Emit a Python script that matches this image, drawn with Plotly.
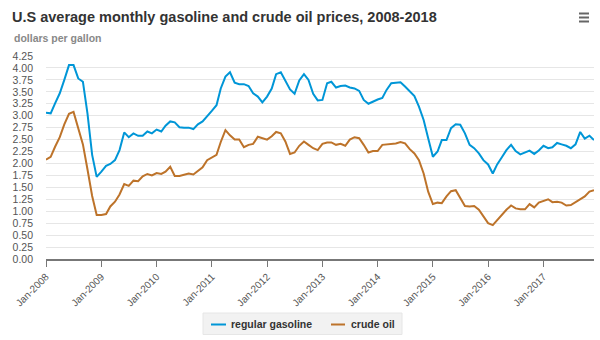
import plotly.graph_objects as go
import pandas as pd

months = pd.date_range("2008-01-01", "2017-12-01", freq="MS")

gasoline = [
    3.06, 3.05, 3.26, 3.47, 3.75, 4.06, 4.06, 3.78, 3.71, 3.05, 2.18, 1.72,
    1.83, 1.95, 1.99, 2.07, 2.28, 2.65, 2.55, 2.63, 2.58, 2.58, 2.67, 2.63,
    2.71, 2.67, 2.79, 2.88, 2.86, 2.76, 2.75, 2.75, 2.72, 2.82, 2.88, 3.00,
    3.10, 3.22, 3.57, 3.82, 3.91, 3.69, 3.66, 3.66, 3.62, 3.47, 3.40, 3.28,
    3.40, 3.57, 3.87, 3.91, 3.74, 3.55, 3.46, 3.74, 3.87, 3.75, 3.46, 3.32,
    3.33, 3.68, 3.71, 3.59, 3.62, 3.63, 3.59, 3.57, 3.52, 3.33, 3.25, 3.30,
    3.34, 3.37, 3.54, 3.68, 3.69, 3.70, 3.61, 3.50, 3.41, 3.19, 2.91, 2.53,
    2.14, 2.25, 2.49, 2.49, 2.74, 2.82, 2.81, 2.63, 2.39, 2.32, 2.21, 2.07,
    1.98, 1.79, 1.98, 2.13, 2.28, 2.39, 2.26, 2.19, 2.23, 2.27, 2.20, 2.27,
    2.37, 2.32, 2.34, 2.43, 2.40, 2.37, 2.32, 2.40, 2.66, 2.52, 2.58, 2.49,
]

crude = [
    2.08, 2.14, 2.35, 2.55, 2.82, 3.04, 3.08, 2.75, 2.40, 1.88, 1.32, 0.92,
    0.92, 0.94, 1.10, 1.20, 1.35, 1.57, 1.53, 1.64, 1.63, 1.73, 1.78, 1.75,
    1.80, 1.78, 1.83, 1.93, 1.74, 1.74, 1.76, 1.79, 1.77, 1.85, 1.92, 2.07,
    2.13, 2.18, 2.45, 2.70, 2.59, 2.50, 2.50, 2.34, 2.39, 2.41, 2.56, 2.53,
    2.50, 2.57, 2.66, 2.63, 2.46, 2.20, 2.23, 2.37, 2.46, 2.39, 2.32, 2.28,
    2.41, 2.44, 2.44, 2.39, 2.41, 2.37, 2.50, 2.55, 2.53, 2.39, 2.23, 2.26,
    2.26, 2.39, 2.40, 2.40, 2.42, 2.45, 2.42, 2.30, 2.21, 2.07, 1.79, 1.41,
    1.15, 1.18, 1.17, 1.31, 1.42, 1.44, 1.27, 1.11, 1.10, 1.11, 1.03, 0.89,
    0.75, 0.71, 0.82, 0.92, 1.03, 1.12, 1.06, 1.04, 1.04, 1.15, 1.08, 1.18,
    1.22, 1.25, 1.19, 1.20, 1.18, 1.12, 1.13, 1.19, 1.25, 1.31, 1.41, 1.44,
]

series_names = ["regular gasoline", "crude oil"]
series_colors = ["#0096d7", "#bd732a"]

title_text = "U.S average monthly gasoline and crude oil prices, 2008-2018"
subtitle_text = "dollars per gallon"

FONT = "Liberation Sans, Arial, sans-serif"

fig = go.Figure()
for name, vals, col in zip(series_names, [gasoline, crude], series_colors):
    fig.add_trace(go.Scatter(x=months, y=vals, mode="lines", name=name,
                             line=dict(color=col, width=2), showlegend=False))

L, R, T, B = 46, 6, 56, 81
W, H = 600, 340
pw, ph = W - L - R, H - T - B


def px_x(x):
    return (x - L) / pw


def px_y(y):
    return (H - B - y) / ph


fig.update_layout(
    width=W, height=H,
    margin=dict(l=L, r=R, t=T, b=B, autoexpand=False),
    paper_bgcolor="white", plot_bgcolor="white",
    font=dict(family=FONT, color="#333333"),
    title=dict(text=title_text, x=12 / W, xanchor="left", xref="container",
               y=1 - 17 / H, yanchor="middle", yref="container",
               font=dict(size=14.5, color="#333333", family=FONT, weight="bold")),
    showlegend=False,
    xaxis=dict(range=[months[0], months[-1]], showgrid=False, automargin=False,
               tickformat="%b-%Y", dtick="M12", tick0="2008-01-01",
               tickangle=-45, ticks="outside", ticklen=6, tickcolor="#777777",
               showline=True, linecolor="#777777", linewidth=2,
               tickfont=dict(size=10, color="#555555", family=FONT),
               zeroline=False, fixedrange=True),
    yaxis=dict(range=[0, 4.25], dtick=0.25, tick0=0, tickformat=".2f",
               showgrid=True, gridcolor="#e6e6e6", gridwidth=1, automargin=False,
               zeroline=False, showline=False, ticks="",
               ticklabelstandoff=12,
               tickfont=dict(size=10.5, color="#555555", family=FONT),
               fixedrange=True),
)

fig.add_annotation(text=subtitle_text, xref="paper", yref="paper",
                   x=px_x(12), y=px_y(38), xanchor="left", yanchor="middle",
                   showarrow=False,
                   font=dict(size=10.5, color="#888888", family=FONT, weight="bold"))

# menu icon
for yy in (13.5, 17.5, 21.5):
    fig.add_shape(type="line", xref="paper", yref="paper",
                  x0=px_x(579), x1=px_x(589), y0=px_y(yy), y1=px_y(yy),
                  line=dict(color="#666666", width=2))

# legend box (drawn manually to match the short line symbols)
fig.add_shape(type="rect", xref="paper", yref="paper",
              x0=px_x(203), x1=px_x(402), y0=px_y(313), y1=px_y(334.5),
              fillcolor="#f2f2f2", line=dict(color="#e6e6e6", width=1))
legend_pos = [(211, 226, 229), (331, 345, 349)]
for (lx0, lx1, tx), name, col in zip(legend_pos, series_names, series_colors):
    fig.add_shape(type="line", xref="paper", yref="paper",
                  x0=px_x(lx0), x1=px_x(lx1), y0=px_y(324.5), y1=px_y(324.5),
                  line=dict(color=col, width=2))
    fig.add_annotation(text=name, xref="paper", yref="paper",
                       x=px_x(tx), y=px_y(324), xanchor="left", yanchor="middle",
                       showarrow=False,
                       font=dict(size=10.5, color="#333333", family=FONT, weight="bold"))

fig.write_html("out.html")
